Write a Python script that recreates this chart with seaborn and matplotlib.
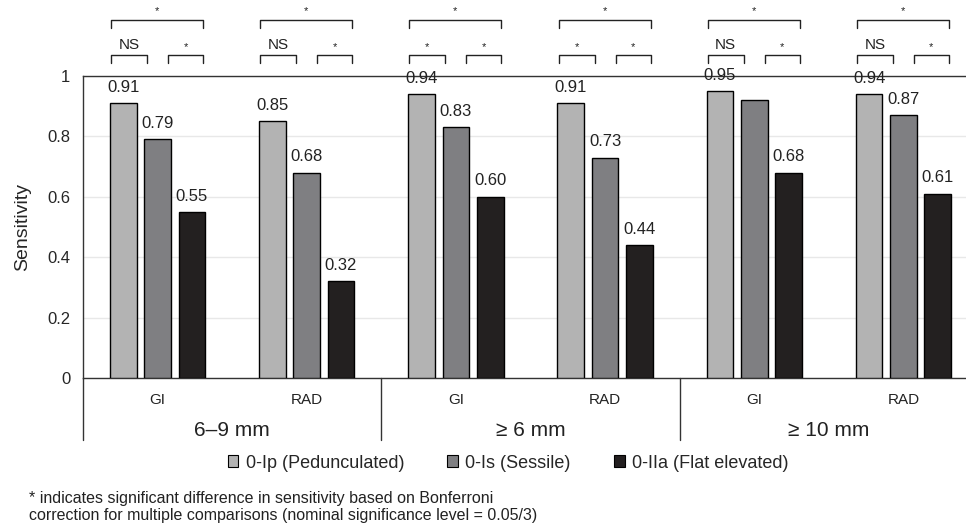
import pandas as pd
import numpy as np
import seaborn as sns
import matplotlib.pyplot as plt
from matplotlib.patches import Patch
import matplotlib.transforms as mtransforms

sns.set_style('white')
plt.rcParams['font.family'] = ['Liberation Sans', 'DejaVu Sans']

# data
sizes = ['6–9 mm', '≥ 6 mm', '≥ 10 mm']
readers = ['GI', 'RAD']
types = ['0-Ip (Pedunculated)', '0-Is (Sessile)', '0-IIa (Flat elevated)']
ip_vals = [0.91, 0.85, 0.94, 0.91, 0.95, 0.94]
is_vals = [0.79, 0.68, 0.83, 0.73, 0.92, 0.87]
iia_vals = [0.55, 0.32, 0.60, 0.44, 0.68, 0.61]
show_label = {'0-Is (Sessile)': [True, True, True, True, False, True]}
sig_ip_is = ['NS', 'NS', '*', '*', 'NS', 'NS']
sig_is_iia = ['*', '*', '*', '*', '*', '*']
sig_ip_iia = ['*', '*', '*', '*', '*', '*']
footnote = ('* indicates significant difference in sensitivity based on Bonferroni\n'
            'correction for multiple comparisons (nominal significance level = 0.05/3)')

groups = [f'{r} {s}' for s in sizes for r in readers]
rows = []
for t, vals in zip(types, [ip_vals, is_vals, iia_vals]):
    for g, v in zip(groups, vals):
        rows.append({'group': g, 'type': t, 'value': v})
df = pd.DataFrame(rows)

colors = ['#b3b3b3', '#7f7f82', '#231f20']

fig = plt.figure(figsize=(9.66, 5.31), dpi=100)
ax = fig.add_axes([83 / 966, 153 / 531, (978 - 83) / 966, 302 / 531])

sns.barplot(data=df, x='group', y='value', hue='type', order=groups,
            hue_order=types, palette=colors, edgecolor='black', linewidth=1,
            width=0.69, gap=0.226, legend=False, ax=ax, zorder=3)

for cont, t in zip(ax.containers, types):
    vals = df[df['type'] == t]['value'].tolist()
    flags = show_label.get(t, [True] * len(vals))
    labels = [f'{v:.2f}' if f else '' for v, f in zip(vals, flags)]
    ax.bar_label(cont, labels=labels, padding=6, fontsize=12, color='#222222')

ax.set_xlim(-0.5, 5.5)
ax.set_ylim(0, 1)
ax.set_yticks([0, 0.2, 0.4, 0.6, 0.8, 1])
ax.set_yticklabels(['0', '0.2', '0.4', '0.6', '0.8', '1'], fontsize=12)
ax.tick_params(axis='y', length=0, pad=9)
ax.set_xticks([])
ax.set_xlabel('')
ax.set_ylabel('Sensitivity', fontsize=14, labelpad=12)
ax.yaxis.grid(True, color='#e8e8e8', linewidth=1, zorder=0)
ax.set_axisbelow(True)
for side in ['left', 'bottom', 'top']:
    ax.spines[side].set_color('#333333')
    ax.spines[side].set_linewidth(1)
ax.spines['right'].set_visible(False)

# category table below the axis
trans = mtransforms.blended_transform_factory(ax.transData, ax.transAxes)
for i, g in enumerate(groups):
    ax.text(i, -0.073, g.split(' ')[0], transform=trans, ha='center', va='center',
            fontsize=11, color='#222222')
for j, s in enumerate(sizes):
    ax.text(2 * j + 0.5, -0.175, s, transform=trans, ha='center', va='center',
            fontsize=15, color='#222222')
for xv in [-0.5, 1.5, 3.5]:
    ax.plot([xv, xv], [0, -0.205], transform=trans, color='#333333', lw=1,
            clip_on=False)

# significance brackets
def bracket(x0, x1, ytop, ybot, label, ylab, fs):
    ax.plot([x0, x0, x1, x1], [ybot, ytop, ytop, ybot], color='#222222', lw=1,
            clip_on=False)
    ax.text((x0 + x1) / 2, ylab, label, ha='center', va='center',
            fontsize=fs, color='#222222', clip_on=False)

for i in range(len(groups)):
    fs = 11 if sig_ip_is[i] == 'NS' else 8
    bracket(i - 0.312, i - 0.07, 1.0695, 1.043, sig_ip_is[i],
            1.103 if sig_ip_is[i] == 'NS' else 1.095, fs)
    bracket(i + 0.07, i + 0.305, 1.0695, 1.043, sig_is_iia[i], 1.095, 8)
    bracket(i - 0.312, i + 0.305, 1.185, 1.159, sig_ip_iia[i], 1.215, 8)

handles = [Patch(facecolor=c, edgecolor='black', linewidth=0.8) for c in colors]
fig.legend(handles, types, loc='center', bbox_to_anchor=(0.526, 0.128), ncol=3,
           frameon=False, fontsize=13, handlelength=0.6, handleheight=0.6,
           handletextpad=0.4, columnspacing=2.4)

fig.text(29 / 966, 1 - 507 / 531, footnote, ha='left', va='center', fontsize=11.5,
         color='#222222', linespacing=1.2)

plt.savefig('out.png', dpi=100)
plt.close()
